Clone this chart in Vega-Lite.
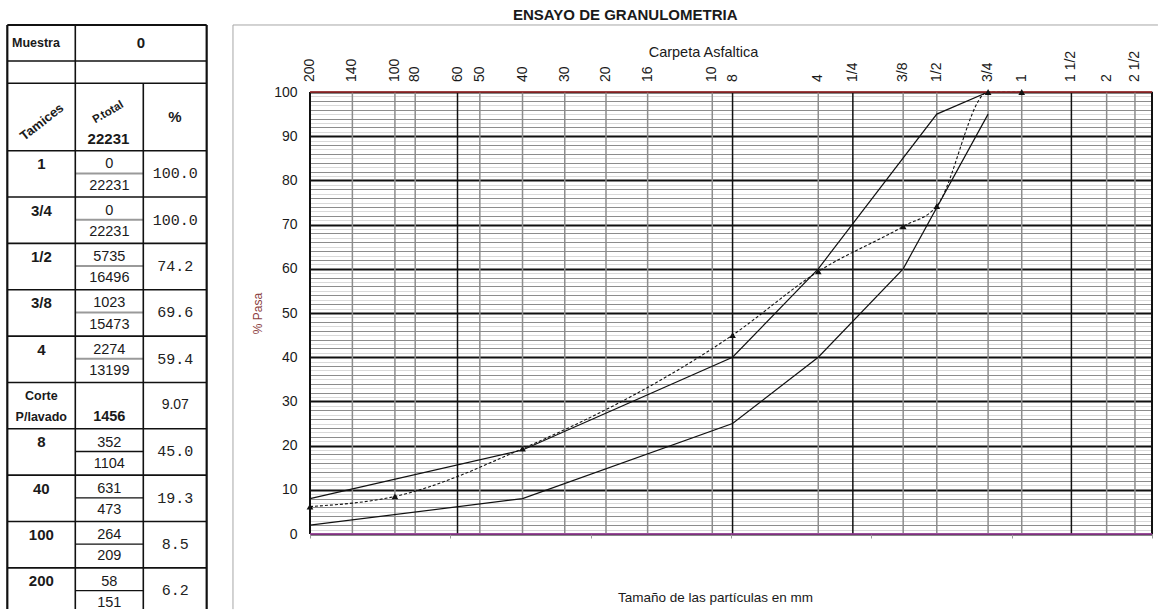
{
  "$schema": "https://vega.github.io/schema/vega-lite/v6.json",
  "padding": {"left": 0, "top": 7, "right": 0, "bottom": 0},
  "autosize": {"type": "pad"},
  "background": "#ffffff",
  "title": {
    "text": "ENSAYO DE GRANULOMETRIA",
    "anchor": "start",
    "frame": "group",
    "dx": 513,
    "offset": -14,
    "baseline": "bottom",
    "font": "Liberation Sans",
    "fontSize": 15,
    "fontWeight": "bold",
    "color": "#1a1a1a"
  },
  "spacing": 78,
  "bounds": "flush",
  "config": {"view": {"stroke": null}, "font": "Liberation Sans"},
  "datasets": {
    "tamices": [
      {"tamiz": "200", "mm": 0.075},
      {"tamiz": "140", "mm": 0.106},
      {"tamiz": "100", "mm": 0.15},
      {"tamiz": "80", "mm": 0.177},
      {"tamiz": "60", "mm": 0.25},
      {"tamiz": "50", "mm": 0.3},
      {"tamiz": "40", "mm": 0.425},
      {"tamiz": "30", "mm": 0.6},
      {"tamiz": "20", "mm": 0.84},
      {"tamiz": "16", "mm": 1.18},
      {"tamiz": "10", "mm": 2.0},
      {"tamiz": "8", "mm": 2.36},
      {"tamiz": "4", "mm": 4.75},
      {"tamiz": "1/4", "mm": 6.3},
      {"tamiz": "3/8", "mm": 9.5},
      {"tamiz": "1/2", "mm": 12.5},
      {"tamiz": "3/4", "mm": 19.0},
      {"tamiz": "1", "mm": 25.0},
      {"tamiz": "1 1/2", "mm": 37.5},
      {"tamiz": "2", "mm": 50.0},
      {"tamiz": "2 1/2", "mm": 63.0}
    ],
    "filas": [
      {"fila": 0, "tamiz": "1", "mm": 25.0, "ret": 0, "acum": 22231, "pct": 100.0},
      {"fila": 1, "tamiz": "3/4", "mm": 19.0, "ret": 0, "acum": 22231, "pct": 100.0},
      {"fila": 2, "tamiz": "1/2", "mm": 12.5, "ret": 5735, "acum": 16496, "pct": 74.2},
      {"fila": 3, "tamiz": "3/8", "mm": 9.5, "ret": 1023, "acum": 15473, "pct": 69.6},
      {"fila": 4, "tamiz": "4", "mm": 4.75, "ret": 2274, "acum": 13199, "pct": 59.4},
      {"fila": 5, "tamiz": "Corte", "tamiz2": "P/lavado", "acum": 1456, "pct": 9.07},
      {"fila": 6, "tamiz": "8", "mm": 2.36, "ret": 352, "acum": 1104, "pct": 45.0},
      {"fila": 7, "tamiz": "40", "mm": 0.425, "ret": 631, "acum": 473, "pct": 19.3},
      {"fila": 8, "tamiz": "100", "mm": 0.15, "ret": 264, "acum": 209, "pct": 8.5},
      {"fila": 9, "tamiz": "200", "mm": 0.075, "ret": 58, "acum": 151, "pct": 6.2}
    ],
    "limites": [
      {"limite": "inferior", "mm": 0.075, "pasa": 2},
      {"limite": "inferior", "mm": 0.425, "pasa": 8},
      {"limite": "inferior", "mm": 2.36, "pasa": 25},
      {"limite": "inferior", "mm": 4.75, "pasa": 40},
      {"limite": "inferior", "mm": 9.5, "pasa": 60},
      {"limite": "inferior", "mm": 19.0, "pasa": 95},
      {"limite": "superior", "mm": 0.075, "pasa": 8},
      {"limite": "superior", "mm": 0.425, "pasa": 19},
      {"limite": "superior", "mm": 2.36, "pasa": 40},
      {"limite": "superior", "mm": 4.75, "pasa": 60},
      {"limite": "superior", "mm": 12.5, "pasa": 95},
      {"limite": "superior", "mm": 19.0, "pasa": 100}
    ],
    "cabecera": [{"muestra": 0, "total": 22231}]
  },
  "hconcat": [
    {
      "width": 232,
      "height": 442,
      "data": {"values": [{}]},
      "layer": [
        {
          "data": {"name": "filas"},
          "mark": {"type": "rule", "color": "#111111", "strokeWidth": 1.6},
          "encoding": {
            "y": {"field": "fila", "type": "quantitative", "scale": {"domain": [-1.2665, 8.2697], "nice": false, "zero": false, "reverse": true}, "axis": null},
            "x": {"datum": 0, "type": "quantitative", "scale": {"domain": [-0.10735, 3.30441], "nice": false, "zero": false}, "axis": null},
            "x2": {"datum": 2.932}
          }
        },
        {
          "data": {"name": "filas"},
          "transform": [{"filter": "isValid(datum.ret)"}],
          "mark": {"type": "rule", "yOffset": 22.7},
          "encoding": {
            "y": {"field": "fila", "type": "quantitative", "axis": null},
            "x": {"datum": 1, "axis": null},
            "x2": {"datum": 2},
            "color": {"condition": {"test": "datum.fila < 5", "value": "#9a9a9a"}, "value": "#111111"},
            "strokeWidth": {"condition": {"test": "datum.fila < 5", "value": 2}, "value": 1.3}
          }
        },
        {
          "mark": {"type": "rule", "color": "#111111", "strokeWidth": 2.2},
          "encoding": {"y": {"datum": -2.712, "axis": null}, "x": {"datum": 0, "axis": null}, "x2": {"datum": 2.932}}
        },
        {
          "mark": {"type": "rule", "color": "#111111", "strokeWidth": 1.6},
          "encoding": {"y": {"datum": -1.935, "axis": null}, "x": {"datum": 0, "axis": null}, "x2": {"datum": 2.932}}
        },
        {
          "mark": {"type": "rule", "color": "#111111", "strokeWidth": 1.6},
          "encoding": {"y": {"datum": -1.454, "axis": null}, "x": {"datum": 0, "axis": null}, "x2": {"datum": 2.932}}
        },
        {
          "mark": {"type": "rule", "color": "#111111", "strokeWidth": 2.2},
          "encoding": {"x": {"datum": 0, "axis": null}, "y": {"datum": -2.712, "axis": null}, "y2": {"datum": 9.89}}
        },
        {
          "mark": {"type": "rule", "color": "#111111", "strokeWidth": 1.6},
          "encoding": {"x": {"datum": 1, "axis": null}, "y": {"datum": -2.712, "axis": null}, "y2": {"datum": 9.89}}
        },
        {
          "mark": {"type": "rule", "color": "#111111", "strokeWidth": 1.6},
          "encoding": {"x": {"datum": 2, "axis": null}, "y": {"datum": -1.454, "axis": null}, "y2": {"datum": 9.89}}
        },
        {
          "mark": {"type": "rule", "color": "#111111", "strokeWidth": 2.2},
          "encoding": {"x": {"datum": 2.932, "axis": null}, "y": {"datum": -2.712, "axis": null}, "y2": {"datum": 9.89}}
        },
        {
          "mark": {"type": "text", "text": "Muestra", "align": "left", "fontSize": 12.5, "fontWeight": "bold", "color": "#1a1a1a"},
          "encoding": {"x": {"datum": 0.069, "axis": null}, "y": {"datum": -2.317, "axis": null}}
        },
        {
          "data": {"name": "cabecera"},
          "mark": {"type": "text", "fontSize": 15, "fontWeight": "bold", "color": "#1a1a1a"},
          "encoding": {"x": {"datum": 1.966, "axis": null}, "y": {"datum": -2.317, "axis": null}, "text": {"field": "muestra", "type": "quantitative", "format": "d"}}
        },
        {
          "mark": {"type": "text", "text": "Tamices", "angle": 322, "fontSize": 13, "fontWeight": "bold", "color": "#1a1a1a"},
          "encoding": {"x": {"datum": 0.51, "axis": null}, "y": {"datum": -0.619, "axis": null}}
        },
        {
          "mark": {"type": "text", "text": "P.total", "angle": 330, "fontSize": 11.5, "fontWeight": "bold", "color": "#1a1a1a"},
          "encoding": {"x": {"datum": 1.485, "axis": null}, "y": {"datum": -0.824, "axis": null}}
        },
        {
          "data": {"name": "cabecera"},
          "mark": {"type": "text", "fontSize": 15, "fontWeight": "bold", "color": "#1a1a1a"},
          "encoding": {"x": {"datum": 1.488, "axis": null}, "y": {"datum": -0.252, "axis": null}, "text": {"field": "total", "type": "quantitative", "format": "d"}}
        },
        {
          "mark": {"type": "text", "text": "%", "fontSize": 15, "fontWeight": "bold", "color": "#1a1a1a"},
          "encoding": {"x": {"datum": 2.466, "axis": null}, "y": {"datum": -0.727, "axis": null}}
        },
        {
          "data": {"name": "filas"},
          "transform": [{"filter": "datum.fila !== 5"}],
          "mark": {"type": "text", "dy": 13.5, "fontSize": 15, "fontWeight": "bold", "color": "#1a1a1a"},
          "encoding": {"x": {"datum": 0.5, "axis": null}, "y": {"field": "fila", "type": "quantitative", "axis": null}, "text": {"field": "tamiz"}}
        },
        {
          "data": {"name": "filas"},
          "transform": [{"filter": "datum.fila === 5"}],
          "mark": {"type": "text", "dy": 13.5, "fontSize": 12.5, "fontWeight": "bold", "color": "#1a1a1a"},
          "encoding": {"x": {"datum": 0.5, "axis": null}, "y": {"field": "fila", "type": "quantitative", "axis": null}, "text": {"field": "tamiz"}}
        },
        {
          "data": {"name": "filas"},
          "transform": [{"filter": "datum.fila === 5"}],
          "mark": {"type": "text", "dy": 35, "fontSize": 12.5, "fontWeight": "bold", "color": "#1a1a1a"},
          "encoding": {"x": {"datum": 0.5, "axis": null}, "y": {"field": "fila", "type": "quantitative", "axis": null}, "text": {"field": "tamiz2"}}
        },
        {
          "data": {"name": "filas"},
          "transform": [{"filter": "isValid(datum.ret)"}],
          "mark": {"type": "text", "dy": 13.7, "fontSize": 14.5, "color": "#1a1a1a"},
          "encoding": {"x": {"datum": 1.5, "axis": null}, "y": {"field": "fila", "type": "quantitative", "axis": null}, "text": {"field": "ret", "type": "quantitative", "format": "d"}}
        },
        {
          "data": {"name": "filas"},
          "transform": [{"filter": "datum.fila !== 5"}],
          "mark": {"type": "text", "dy": 35, "fontSize": 14.5, "color": "#1a1a1a"},
          "encoding": {"x": {"datum": 1.5, "axis": null}, "y": {"field": "fila", "type": "quantitative", "axis": null}, "text": {"field": "acum", "type": "quantitative", "format": "d"}}
        },
        {
          "data": {"name": "filas"},
          "transform": [{"filter": "datum.fila === 5"}],
          "mark": {"type": "text", "dy": 35, "fontSize": 14.5, "fontWeight": "bold", "color": "#1a1a1a"},
          "encoding": {"x": {"datum": 1.5, "axis": null}, "y": {"field": "fila", "type": "quantitative", "axis": null}, "text": {"field": "acum", "type": "quantitative", "format": "d"}}
        },
        {
          "data": {"name": "filas"},
          "transform": [{"filter": "datum.fila !== 5"}],
          "mark": {"type": "text", "dy": 22.5, "font": "Liberation Mono", "fontSize": 15, "color": "#222222"},
          "encoding": {"x": {"datum": 2.47, "axis": null}, "y": {"field": "fila", "type": "quantitative", "axis": null}, "text": {"field": "pct", "type": "quantitative", "format": ".1f"}}
        },
        {
          "data": {"name": "filas"},
          "transform": [{"filter": "datum.fila === 5"}],
          "mark": {"type": "text", "dy": 22.5, "fontSize": 14, "color": "#1a1a1a"},
          "encoding": {"x": {"datum": 2.47, "axis": null}, "y": {"field": "fila", "type": "quantitative", "axis": null}, "text": {"field": "pct", "type": "quantitative", "format": ".2f"}}
        }
      ]
    },
    {
      "width": 842,
      "height": 442,
      "data": {"values": [{}]},
      "resolve": {"axis": {"x": "independent", "y": "independent"}},
      "layer": [
        {
          "mark": {"type": "rule", "color": "#a6a6a6", "strokeWidth": 1},
          "encoding": {
            "x": {"datum": 0.04, "type": "quantitative", "scale": {"type": "log", "domain": [0.075, 72.4], "nice": false}, "axis": null},
            "x2": {"datum": 76},
            "y": {"datum": 115.16, "type": "quantitative", "scale": {"domain": [0, 100], "nice": false, "zero": false}, "axis": null}
          }
        },
        {
          "mark": {"type": "rule", "color": "#a6a6a6", "strokeWidth": 1},
          "encoding": {"x": {"datum": 0.04, "axis": null}, "y": {"datum": 115.16, "axis": null}, "y2": {"datum": -17}}
        },
        {
          "data": {"name": "tamices"},
          "mark": {"type": "rule", "strokeWidth": 1.5},
          "encoding": {
            "x": {"field": "mm", "type": "quantitative", "axis": null},
            "y": {"datum": 0, "axis": null},
            "y2": {"datum": 100},
            "color": {"condition": {"test": "indexof([0.25, 2.36, 6.3, 37.5], datum.mm) >= 0", "value": "#111111"}, "value": "#8c8c8c"}
          }
        },
        {
          "data": {"name": "limites"},
          "mark": {"type": "line", "color": "#111111", "strokeWidth": 1.2},
          "encoding": {
            "x": {
              "field": "mm",
              "type": "quantitative",
              "axis": {
                "orient": "bottom",
                "values": [0.075, 0.2358, 0.7412, 2.3303, 7.3225, 23.03, 72.4],
                "labels": false,
                "ticks": true,
                "tickSize": 4,
                "tickColor": "#999999",
                "domain": false,
                "grid": false,
                "title": "Tamaño de las partículas en mm",
                "titleFont": "Liberation Sans",
                "titleFontSize": 13.5,
                "titleFontWeight": "normal",
                "titleColor": "#1a1a1a",
                "titleX": 405,
                "titleY": 63,
                "titleAlign": "center",
                "titleBaseline": "middle"
              }
            },
            "y": {
              "field": "pasa",
              "type": "quantitative",
              "axis": {
                "orient": "left",
                "values": [0,1,2,3,4,5,6,7,8,9,10,11,12,13,14,15,16,17,18,19,20,21,22,23,24,25,26,27,28,29,30,31,32,33,34,35,36,37,38,39,40,41,42,43,44,45,46,47,48,49,50,51,52,53,54,55,56,57,58,59,60,61,62,63,64,65,66,67,68,69,70,71,72,73,74,75,76,77,78,79,80,81,82,83,84,85,86,87,88,89,90,91,92,93,94,95,96,97,98,99,100],
                "labelExpr": "datum.value % 10 === 0 ? datum.label : ''",
                "labelOverlap": false,
                "labelFlush": false,
                "labelBound": false,
                "labelFont": "Liberation Sans",
                "labelFontSize": 14,
                "labelColor": "#1a1a1a",
                "labelPadding": 13,
                "ticks": false,
                "domain": false,
                "grid": true,
                "gridColor": {"condition": [{"test": "datum.value % 10 === 0", "value": "#111111"}, {"test": "datum.value % 2 === 0", "value": "#8c8c8c"}], "value": "#d9d9d9"},
                "gridWidth": {"condition": {"test": "datum.value % 10 === 0", "value": 1.8}, "value": 1.2},
                "title": "% Pasa",
                "titleFont": "Liberation Sans",
                "titleFontSize": 12,
                "titleFontWeight": "normal",
                "titleColor": "#8b4040",
                "titleX": -53,
                "titleY": 221,
                "titleAngle": 270,
                "titleAlign": "center",
                "titleBaseline": "middle"
              }
            },
            "detail": {"field": "limite"}
          }
        },
        {
          "data": {"name": "filas"},
          "transform": [{"filter": "isValid(datum.mm)"}],
          "mark": {"type": "line", "color": "#111111", "strokeWidth": 1.1, "strokeDash": [3, 2], "interpolate": "monotone"},
          "encoding": {
            "x": {"field": "mm", "type": "quantitative", "axis": null},
            "y": {"field": "pct", "type": "quantitative", "axis": null}
          }
        },
        {
          "mark": {"type": "rule", "color": "#111111", "strokeWidth": 2},
          "encoding": {"x": {"datum": 0.075, "axis": null}, "y": {"datum": 0, "axis": null}, "y2": {"datum": 100}}
        },
        {
          "mark": {"type": "rule", "color": "#111111", "strokeWidth": 2},
          "encoding": {"x": {"datum": 72.4, "axis": null}, "y": {"datum": 0, "axis": null}, "y2": {"datum": 100}}
        },
        {
          "mark": {"type": "rule", "color": "#a3282a", "strokeWidth": 1.6},
          "encoding": {"y": {"datum": 100, "axis": null}, "x": {"datum": 0.075, "axis": null}, "x2": {"datum": 72.4}}
        },
        {
          "mark": {"type": "rule", "color": "#a03ca0", "strokeWidth": 1.6},
          "encoding": {"y": {"datum": 0, "axis": null}, "x": {"datum": 0.075, "axis": null}, "x2": {"datum": 72.4}}
        },
        {
          "data": {"name": "filas"},
          "transform": [{"filter": "isValid(datum.mm)"}],
          "mark": {"type": "point", "shape": "triangle-up", "filled": true, "size": 45, "color": "#111111", "opacity": 1},
          "encoding": {
            "x": {"field": "mm", "type": "quantitative", "axis": null},
            "y": {"field": "pct", "type": "quantitative", "axis": null}
          }
        },
        {
          "data": {"name": "tamices"},
          "mark": {"type": "text", "angle": 270, "align": "left", "baseline": "middle", "dx": 10, "fontSize": 14, "color": "#1a1a1a"},
          "encoding": {
            "x": {
              "field": "mm",
              "type": "quantitative",
              "axis": {
                "orient": "top",
                "labels": false,
                "ticks": false,
                "domain": false,
                "grid": false,
                "title": "Carpeta Asfaltica",
                "titleFont": "Liberation Sans",
                "titleFontSize": 14.5,
                "titleFontWeight": "normal",
                "titleColor": "#1a1a1a",
                "titleX": 393,
                "titleY": -39.5,
                "titleAlign": "center",
                "titleBaseline": "middle"
              }
            },
            "y": {"datum": 100, "axis": null},
            "text": {"field": "tamiz"}
          }
        }
      ]
    }
  ]
}
